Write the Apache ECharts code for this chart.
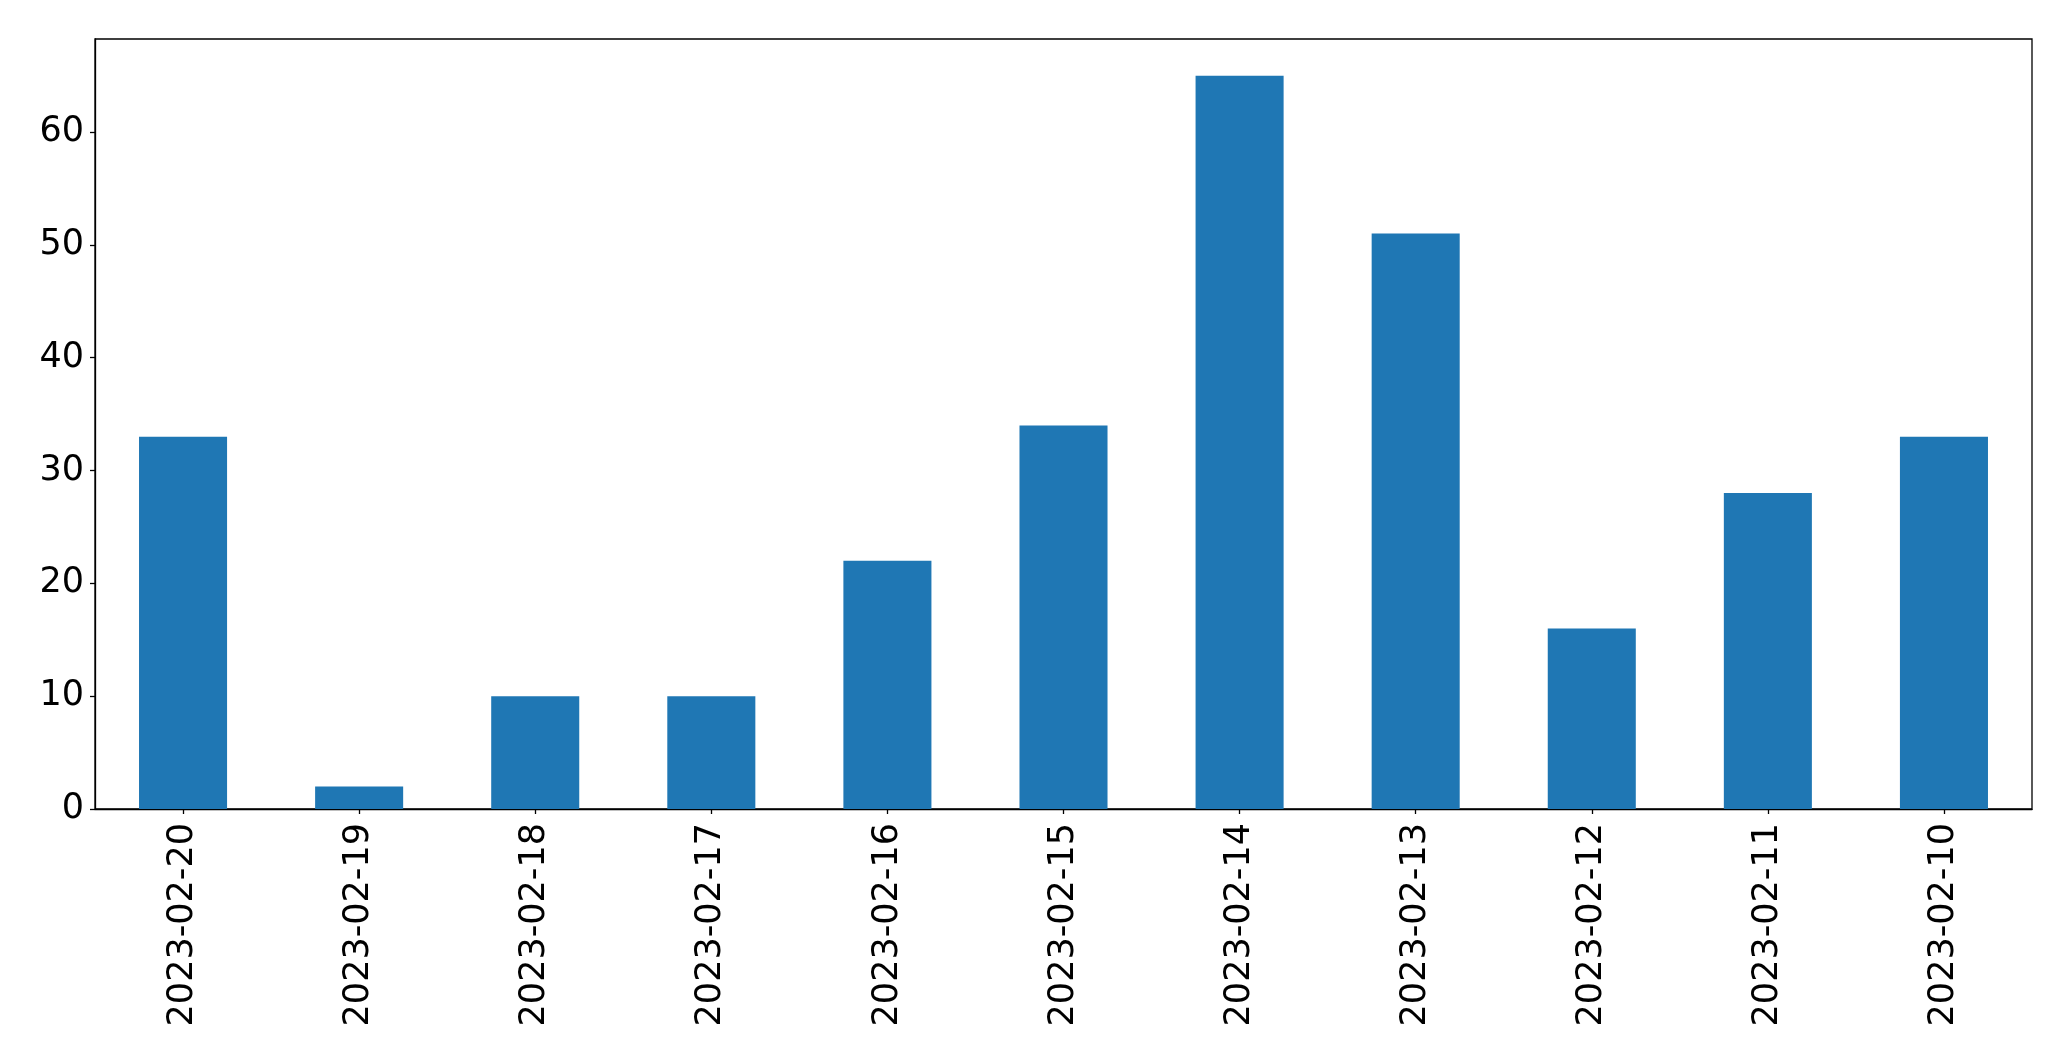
<!DOCTYPE html>
<html>
<head>
<meta charset="utf-8">
<script src="https://cdn.jsdelivr.net/npm/echarts@6/dist/echarts.min.js"></script>
<style>
html,body{margin:0;padding:0;background:#fff;}
#chart{width:2071px;height:1061px;}
</style>
</head>
<body>
<div id="chart"></div>
<script>
const categories = ["2023-02-20","2023-02-19","2023-02-18","2023-02-17","2023-02-16","2023-02-15","2023-02-14","2023-02-13","2023-02-12","2023-02-11","2023-02-10"];
const values = [33, 2, 10, 10, 22, 34, 65, 51, 16, 28, 33];
const yTicks = [0, 10, 20, 30, 40, 50, 60];

const chart = echarts.init(document.getElementById('chart'), null, {renderer: 'canvas'});
chart.setOption({
  animation: false,
  backgroundColor: '#ffffff',
  grid: {
    left: 95, top: 39, right: 39, bottom: 252,
    show: true, borderColor: '#000', borderWidth: 1.3, backgroundColor: 'transparent'
  },
  xAxis: {
    type: 'category',
    data: categories,
    boundaryGap: true,
    axisLine: {show: true, lineStyle: {color: '#000', width: 1.3}},
    axisTick: {show: true, alignWithLabel: true, length: 5, lineStyle: {color: '#000', width: 1.3}},
    axisLabel: {
      rotate: 90, interval: 0, margin: 14,
      fontFamily: 'DejaVu Sans', fontSize: 35, color: '#000'
    },
    splitLine: {show: false}
  },
  yAxis: {
    type: 'value',
    min: 0, max: 68.25, interval: 10,
    axisLine: {show: true, lineStyle: {color: '#000', width: 1.3}},
    axisTick: {show: true, length: 5, lineStyle: {color: '#000', width: 1.3}},
    axisLabel: {
      margin: 11, fontFamily: 'DejaVu Sans', fontSize: 35, color: '#000',
      formatter: function (v) { return yTicks.indexOf(v) >= 0 ? String(v) : ''; },
      showMaxLabel: false
    },
    splitLine: {show: false}
  },
  series: [{
    type: 'bar',
    data: values,
    barWidth: '50%',
    itemStyle: {color: '#1f77b4'}
  }]
});
</script>
</body>
</html>
